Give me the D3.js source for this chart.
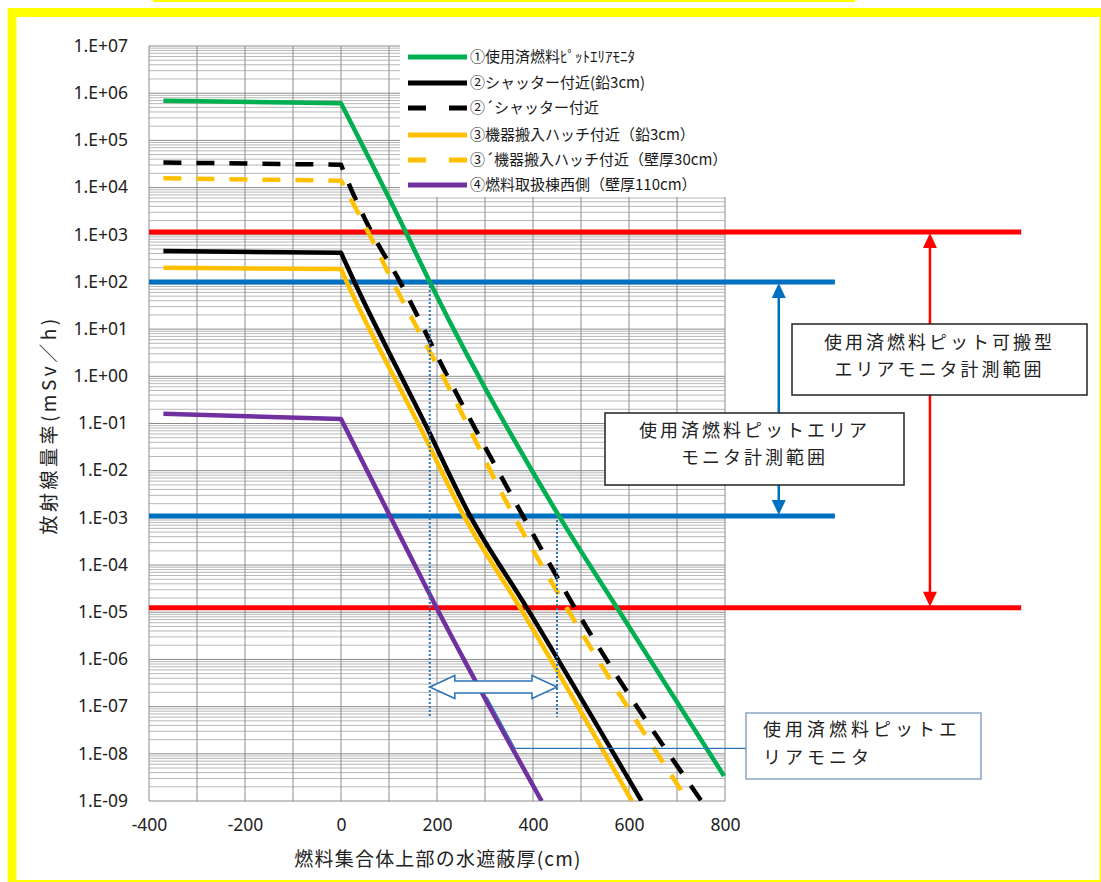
<!DOCTYPE html>
<html>
<head>
<meta charset="utf-8">
<script src="https://cdn.jsdelivr.net/npm/d3@7"></script>
<style>
  body { margin: 0; background: #fff; }
  svg { display: block; }
</style>
</head>
<body>
<svg id="figure"></svg>
<script>
// dose-rate curves vs water shielding thickness (x in cm, value in mSv/h)
const greenX = [-370, 0, 135, 185, 454, 575, 798];
const greenV = [6.9e5, 6.1e5, 1.14e3, 1.0e2, 1.1e-3, 1.25e-5, 3.4e-9];

const blackX = [-370, 0, 28, 178, 269, 387, 626];
const blackV = [4.5e2, 4.15e2, 1.0e2, 8.6e-2, 1.1e-3, 1.25e-5, 1e-9];

const blackDashX = [-370, 0, 19, 64, 123, 217, 379, 487, 751];
const blackDashV = [3.4e4, 3.05e4, 1.04e4, 1.12e3, 1.0e2, 1.25, 1.1e-3, 1.25e-5, 1e-9];

const yellowX = [-370, 0, 12, 171, 256, 373, 606];
const yellowV = [2.0e2, 1.88e2, 1.0e2, 6.2e-2, 1.1e-3, 1.25e-5, 1e-9];

const yellowDashX = [-370, 0, 57, 108, 213, 360, 470, 723];
const yellowDashV = [1.57e4, 1.4e4, 1.12e3, 1.0e2, 0.98, 1.1e-3, 1.25e-5, 1e-9];

const purpleX = [-370, 0, 102, 199, 418];
const purpleV = [0.16, 0.125, 1.1e-3, 1.25e-5, 1e-9];

const seriesNames = [
  "①使用済燃料ﾋﾟｯﾄｴﾘｱﾓﾆﾀ",
  "②シャッター付近(鉛3cm)",
  "②´シャッター付近",
  "③機器搬入ハッチ付近（鉛3cm）",
  "③´機器搬入ハッチ付近（壁厚30cm）",
  "④燃料取扱棟西側（壁厚110cm）"
];

// measuring ranges (mSv/h)
const redRange = [1.14e3, 1.25e-5];
const blueRange = [1.0e2, 1.1e-3];

const xTicks = [-400, -200, 0, 200, 400, 600, 800];
const decades = d3.range(-9, 8);

const series = [
  {name: seriesNames[0], xs: greenX, vs: greenV, color: "#00b050", dash: null},
  {name: seriesNames[1], xs: blackX, vs: blackV, color: "#000000", dash: null},
  {name: seriesNames[2], xs: blackDashX, vs: blackDashV, color: "#000000", dash: "18,15"},
  {name: seriesNames[3], xs: yellowX, vs: yellowV, color: "#ffc000", dash: null},
  {name: seriesNames[4], xs: yellowDashX, vs: yellowDashV, color: "#ffc000", dash: "18,15"},
  {name: seriesNames[5], xs: purpleX, vs: purpleV, color: "#7030a0", dash: null}
];

const W = 1101, H = 882;
const plot = {left: 149, right: 725, top: 46, bottom: 801};
const cjk = "'Noto Sans CJK JP', 'Noto Sans', sans-serif";
const latin = "'Noto Sans', 'Liberation Sans', sans-serif";

const svg = d3.select("#figure").attr("width", W).attr("height", H);
svg.append("rect").attr("width", W).attr("height", H).attr("fill", "#fff");

const x = d3.scaleLinear().domain([-400, 800]).range([plot.left, plot.right]);
const y = d3.scaleLog().domain([1e-9, 1e7]).range([plot.bottom, plot.top]);

// grid
const grid = svg.append("g");
const minor = [];
decades.slice(0, -1).forEach(e => { for (let k = 2; k <= 9; k++) minor.push(k * Math.pow(10, e)); });
grid.selectAll("line.minor").data(minor).enter().append("line")
  .attr("x1", plot.left).attr("x2", plot.right)
  .attr("y1", d => y(d)).attr("y2", d => y(d))
  .attr("stroke", "#a6a6a6").attr("stroke-width", 0.8);
grid.selectAll("line.major").data(decades.map(e => Math.pow(10, e))).enter().append("line")
  .attr("x1", plot.left).attr("x2", plot.right)
  .attr("y1", d => y(d)).attr("y2", d => y(d))
  .attr("stroke", "#8c8c8c").attr("stroke-width", 1);
grid.selectAll("line.vert").data(d3.range(-400, 801, 100)).enter().append("line")
  .attr("x1", d => x(d)).attr("x2", d => x(d))
  .attr("y1", plot.top).attr("y2", plot.bottom)
  .attr("stroke", "#8c8c8c").attr("stroke-width", 1);

// legend background hides the grid under it
const legend = svg.append("g");
legend.append("rect").attr("x", 400).attr("y", 44).attr("width", 332).attr("height", 153).attr("fill", "#fff");

// axes
const fmt = d => {
  const e = Math.round(Math.log10(d));
  return "1.E" + (e >= 0 ? "+" : "-") + String(Math.abs(e)).padStart(2, "0");
};
const yAxis = svg.append("g").attr("transform", `translate(${plot.left},0)`)
  .call(d3.axisLeft(y).tickValues(decades.map(e => Math.pow(10, e))).tickFormat(fmt).tickSize(0).tickPadding(21));
const xAxis = svg.append("g").attr("transform", `translate(0,${plot.bottom})`)
  .call(d3.axisBottom(x).tickValues(xTicks).tickFormat(d => String(d)).tickSize(0).tickPadding(18));
[yAxis, xAxis].forEach(a => {
  a.select(".domain").remove();
  a.selectAll("text").attr("font-family", latin).attr("font-size", 17.5).attr("fill", "#222");
});
yAxis.selectAll("text").attr("dy", "0.3em");

svg.append("text").attr("x", 438).attr("y", 866).attr("text-anchor", "middle")
  .attr("font-family", cjk).attr("font-size", 19).attr("letter-spacing", 1.2).attr("fill", "#222")
  .text("燃料集合体上部の水遮蔽厚(cm)");
svg.append("text").attr("transform", "translate(56,425) rotate(-90)").attr("text-anchor", "middle")
  .attr("font-family", cjk).attr("font-size", 19).attr("letter-spacing", 3.5).attr("fill", "#222")
  .text("放射線量率(mSv／h)");

// range lines
svg.selectAll("line.red").data(redRange).enter().append("line")
  .attr("x1", plot.left).attr("x2", x(1417))
  .attr("y1", d => y(d)).attr("y2", d => y(d))
  .attr("stroke", "#ff0000").attr("stroke-width", 5);
svg.selectAll("line.blue").data(blueRange).enter().append("line")
  .attr("x1", plot.left).attr("x2", x(1029))
  .attr("y1", d => y(d)).attr("y2", d => y(d))
  .attr("stroke", "#0070c0").attr("stroke-width", 5);

// curves: straight plateau up to the pool edge, smooth fall-off after it
svg.append("clipPath").attr("id", "plotclip").append("rect")
  .attr("x", plot.left).attr("y", plot.top).attr("width", plot.right - plot.left + 3).attr("height", plot.bottom - plot.top);
const smooth = d3.line().x(d => x(d[0])).y(d => y(d[1])).curve(d3.curveMonotoneX);
function curvePath(s) {
  const pts = s.xs.map((v, i) => [v, s.vs[i]]);
  const fall = smooth(pts.slice(1));
  return `M${x(pts[0][0])},${y(pts[0][1])}L` + fall.slice(1);
}
svg.append("g").attr("clip-path", "url(#plotclip)")
  .selectAll("path").data(series).enter().append("path")
  .attr("d", curvePath)
  .attr("fill", "none").attr("stroke", s => s.color).attr("stroke-width", 4.5)
  .attr("stroke-linejoin", "round")
  .attr("stroke-dasharray", s => s.dash);

// legend entries
series.forEach((s, i) => {
  const ly = [57, 83, 108, 135, 160, 185][i];
  legend.append("line").attr("x1", 408).attr("x2", 467).attr("y1", ly).attr("y2", ly)
    .attr("stroke", s.color).attr("stroke-width", 5)
    .attr("stroke-dasharray", s.dash ? "18,23" : null);
  legend.append("text").attr("x", 470).attr("y", ly).attr("dy", "0.35em")
    .attr("font-family", cjk).attr("font-size", 15).attr("fill", "#1a1a1a").text(s.name);
});

// vertical double arrows for the measuring ranges
function vArrow(px, v1, v2, color) {
  const y1 = y(v1), y2 = y(v2);
  svg.append("line").attr("x1", px).attr("x2", px).attr("y1", y1 + 12).attr("y2", y2 - 12)
    .attr("stroke", color).attr("stroke-width", 2.5);
  svg.append("path").attr("d", `M${px},${y1 + 1}L${px - 7},${y1 + 16}L${px + 7},${y1 + 16}Z`).attr("fill", color);
  svg.append("path").attr("d", `M${px},${y2 - 1}L${px - 7},${y2 - 16}L${px + 7},${y2 - 16}Z`).attr("fill", color);
}
vArrow(x(912), blueRange[0], blueRange[1], "#0070c0");
vArrow(x(1227), redRange[0], redRange[1], "#ff0000");

// dotted guides and block double arrow
[185, 450].forEach((d, i) => {
  svg.append("line").attr("x1", x(d)).attr("x2", x(d))
    .attr("y1", y(i === 0 ? blueRange[0] : blueRange[1])).attr("y2", y(6e-8))
    .attr("stroke", "#2e75b6").attr("stroke-width", 2).attr("stroke-dasharray", "2,2");
});
{
  const ax1 = x(185), ax2 = x(450), ay = y(2.6e-7);
  const hw = 25, sh = 6, hh = 11.5;
  svg.append("path")
    .attr("d", `M${ax1},${ay}L${ax1 + hw},${ay - hh}L${ax1 + hw},${ay - sh}L${ax2 - hw},${ay - sh}L${ax2 - hw},${ay - hh}` +
      `L${ax2},${ay}L${ax2 - hw},${ay + hh}L${ax2 - hw},${ay + sh}L${ax1 + hw},${ay + sh}L${ax1 + hw},${ay + hh}Z`)
    .attr("fill", "#fff").attr("stroke", "#2e75b6").attr("stroke-width", 1.6);
  // leader from the label box
  svg.append("polyline")
    .attr("points", `${746},${y(1.3e-8)} ${515},${y(1.3e-8)} ${487},${ay + 10}`)
    .attr("fill", "none").attr("stroke", "#2e75b6").attr("stroke-width", 1.2);
}

// text boxes
function textBox(bx, by, bw, bh, lines, opts) {
  svg.append("rect").attr("x", bx).attr("y", by).attr("width", bw).attr("height", bh)
    .attr("fill", "#fff").attr("stroke", opts.stroke).attr("stroke-width", opts.sw);
  lines.forEach((t, i) => {
    svg.append("text").attr("x", opts.anchor === "start" ? opts.tx : bx + bw / 2)
      .attr("y", opts.ty[i]).attr("dy", "0.35em")
      .attr("text-anchor", opts.anchor).attr("letter-spacing", opts.ls)
      .attr("font-family", cjk).attr("font-size", 18).attr("fill", "#222").text(t);
  });
}
textBox(792, 324, 295, 71, ["使用済燃料ピット可搬型", "エリアモニタ計測範囲"],
  {stroke: "#222", sw: 1.5, anchor: "middle", ty: [343, 370], ls: 3});
textBox(605, 413, 299, 72, ["使用済燃料ピットエリア", "モニタ計測範囲"],
  {stroke: "#222", sw: 1.5, anchor: "middle", ty: [431, 458], ls: 3});
textBox(746, 713, 235, 66, ["使用済燃料ピットエ", "リアモニタ"],
  {stroke: "#6d8db3", sw: 1.2, anchor: "start", tx: 763, ty: [730, 758], ls: 4});

// yellow frame
svg.append("rect").attr("x", 153).attr("y", -6).attr("width", 702).attr("height", 8).attr("fill", "#ffff00");
svg.append("rect").attr("x", 12).attr("y", 12.5).attr("width", 1092).attr("height", 872)
  .attr("fill", "none").attr("stroke", "#ffff00").attr("stroke-width", 9);
</script>
</body>
</html>
